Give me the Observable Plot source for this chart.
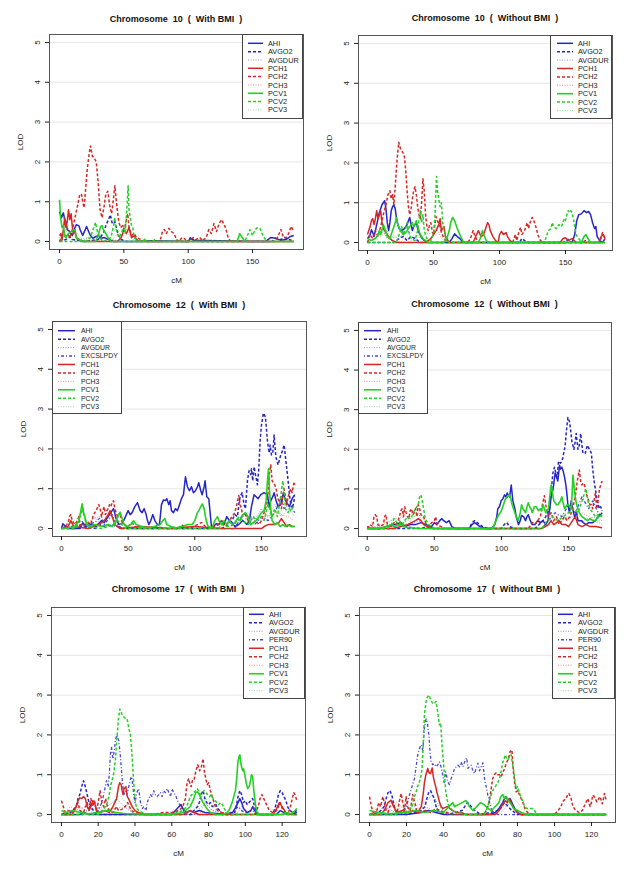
<!DOCTYPE html>
<html><head><meta charset="utf-8">
<script src="https://cdn.jsdelivr.net/npm/d3@7"></script>
<script src="https://cdn.jsdelivr.net/npm/@observablehq/plot@0.6"></script>
<style>
html,body{margin:0;padding:0;background:#fff;}
#root{position:relative;width:629px;height:870px;overflow:hidden;font-family:"Liberation Sans",Arial,Helvetica,sans-serif;}
.panel{position:absolute;}
.title{position:absolute;font-weight:bold;font-size:9px;line-height:9px;white-space:pre;transform:translateX(-50%);color:#111;}
.legend{position:absolute;}
</style></head><body><div id="root"></div>
<script>
// ---------------- Chromosome 10 (With BMI) ----------------
const c10w_AHI = [[0,0.75],[1.5,0.6],[3,0.72],[4,0.55],[5,0.5],[6,0.3],[8,0.25],[10,0.15],[12,0.35],[13,0.42],[15,0.4],[16,0.3],[18,0.15],[20,0.3],[21,0.38],[22,0.3],[24,0.15],[26,0.08],[28,0.12],[30,0.15],[32,0.08],[35,0.1],[38,0.05],[42,0],[60,0],[70,0.02],[100,0],[102,0.08],[104,0.03],[160,0],[164,0.1],[168,0.08],[172,0.03],[176,0.05],[179,0.12],[182,0.15]];
const c10w_AVGO2 = [[0,0],[5,0.05],[8,0.12],[10,0.05],[20,0],[30,0.05],[34,0.2],[36,0.4],[38,0.55],[39.5,0.67],[41,0.45],[43,0.5],[44.5,0.3],[46,0.15],[48,0.05],[52,0],[100,0],[102,0.12],[104,0.05],[110,0],[165,0],[168,0.08],[172,0.05],[175,0.1],[178,0.05],[182,0.02]];
const c10w_AVGDUR = [[0,0.1],[3,0.3],[5,0.1],[10,0.05],[25,0.1],[30,0.25],[33,0.1],[40,0.05],[50,0],[182,0]];
const c10w_PCH1 = [[0,0.15],[1,0.2],[2,0.05],[3,0.3],[4,0.6],[5,0.35],[6,0.5],[7,0.8],[8,0.55],[9,0.7],[10,0.35],[11,0.2],[12,0.3],[13,0.1],[15,0.05],[18,0],[45,0],[48,0.1],[50,0.3],[52,0.2],[54,0.35],[56,0.1],[58,0.15],[60,0.05],[62,0],[182,0]];
const c10w_PCH2 = [[0,0],[2,0.15],[4,0.1],[6,0.2],[8,0.1],[10,0.3],[12,0.6],[14,0.9],[15.5,1.15],[17,1.2],[18,1.0],[19,0.85],[20,1.2],[21.5,1.8],[23,2.2],[24,2.4],[25.5,2.15],[27,2.1],[28.5,2.0],[30,1.5],[31.5,0.8],[33,0.6],[34.5,0.85],[36,1.2],[37.5,1.26],[39,0.9],[40.5,0.7],[42,1.1],[43,1.4],[44.5,0.9],[46,0.5],[47.5,0.35],[49,0.4],[50.5,0.3],[52,0.55],[53,0.7],[54,0.35],[56,0.15],[58,0.2],[60,0.1],[63,0.05],[66,0],[78,0],[80,0.25],[81.5,0.3],[83,0.2],[85,0.33],[87,0.25],[89,0.2],[91,0.05],[93,0],[95,0.1],[97,0.08],[99,0],[104,0.1],[106,0.05],[109,0.1],[111,0.02],[114,0.1],[116,0.3],[118,0.2],[120,0.45],[122,0.25],[124,0.45],[126,0.55],[127.5,0.45],[129,0.35],[131,0.1],[133,0],[168,0],[170,0.15],[172,0.3],[174,0.1],[176,0.1],[178,0.2],[180,0.38],[182,0.25]];
const c10w_PCH3 = [[0,0],[3,0.2],[6,0.4],[8,0.15],[12,0.2],[16,0.05],[40,0],[45,0.2],[47,0.1],[52,0.3],[55,0.1],[60,0],[182,0]];
const c10w_PCV1 = [[0,1.05],[0.8,0.6],[2,0.35],[3,0.4],[4,0.15],[5,0.1],[7,0.2],[9,0.25],[11,0.3],[12,0.28],[13,0.1],[15,0.05],[18,0],[28,0],[30,0.15],[32,0.38],[33,0.4],[34,0.3],[36,0.2],[38,0.08],[40,0],[64,0],[66,0.05],[68,0],[138,0],[140,0.2],[142,0.1],[144,0],[182,0]];
const c10w_PCV2 = [[0,0],[20,0],[24,0.1],[26,0.3],[28,0.48],[29,0.3],[31,0.1],[34,0],[40,0.1],[42,0.4],[43,0.6],[44,0.3],[46,0.1],[48,0.2],[50,0.4],[51,0.2],[52.5,0.9],[53.3,1.4],[54,0.8],[55,0.6],[56,0.4],[57,0.35],[58,0.1],[60,0.05],[62,0],[72,0],[74,0.05],[76,0],[144,0],[146,0.15],[148,0.3],[150,0.15],[152,0.3],[154,0.35],[156,0.32],[158,0.15],[160,0.05],[162,0],[182,0]];
const c10w_PCV3 = [[0,0],[5,0.3],[8,0.1],[14,0.2],[18,0],[25,0.2],[28,0.1],[45,0.3],[48,0.1],[52,0.2],[55,0],[65,0.1],[70,0],[182,0]];

// ---------------- Chromosome 10 (Without BMI) ----------------
const c10o_AHI = [[0,0.1],[2,0.2],[3,0.32],[4,0.25],[5,0.15],[6,0.3],[7,0.45],[8,0.6],[9,0.75],[10,0.85],[11,0.95],[12,1.0],[13,1.05],[14,0.85],[15,0.5],[16,0.3],[17,0.5],[18,0.8],[19,0.9],[20,0.95],[21,0.85],[22,0.6],[23,0.45],[24,0.35],[26,0.3],[28,0.35],[30,0.45],[31,0.55],[32,0.63],[33,0.45],[34,0.3],[35,0.4],[36,0.45],[37,0.5],[38,0.35],[39,0.25],[41,0.12],[43,0.05],[46,0],[62,0],[64,0.1],[66,0.22],[68,0.15],[70,0.1],[72,0.02],[74,0],[155,0],[157,0.2],[158.5,0.55],[160,0.7],[162,0.72],[164,0.8],[166,0.75],[167.5,0.78],[169,0.7],[170.5,0.5],[172,0.35],[173,0.4],[174,0.15],[176,0.05],[178,0],[180,0.1]];
const c10o_AVGO2 = [[0,0],[20,0],[24,0.1],[27,0.15],[30,0.05],[33,0.15],[36,0.1],[40,0],[115,0],[117,0.1],[119,0.05],[122,0],[150,0],[152,0.08],[154,0],[180,0]];
const c10o_AVGDUR = [[0,0],[8,0.15],[12,0.3],[15,0.1],[25,0.15],[30,0.3],[33,0.1],[40,0],[180,0]];
const c10o_PCH1 = [[0,0.2],[2,0.4],[3,0.55],[4,0.6],[5,0.45],[6,0.6],[7,0.8],[8,0.6],[9,0.7],[10,0.8],[11,0.5],[12,0.35],[13,0.3],[15,0.2],[17,0.1],[19,0.05],[22,0],[44,0],[48,0.1],[50,0.2],[52,0.3],[54,0.45],[55,0.6],[56,0.3],[57,0.35],[58,0.4],[59,0.15],[61,0.05],[63,0],[80,0],[82,0.15],[84,0.3],[86,0.15],[88,0.2],[90,0.4],[91,0.5],[92,0.45],[93,0.3],[95,0.15],[97,0.05],[99,0],[100,0.2],[101.5,0.28],[103,0.2],[105,0.25],[106,0.15],[108,0.05],[110,0],[146,0],[148,0.1],[150,0.12],[152,0.05],[155,0.1],[158,0],[175,0],[177,0.15],[178.5,0.2],[180,0.1]];
const c10o_PCH2 = [[0,0],[2,0.2],[4,0.1],[6,0.3],[8,0.15],[10,0.4],[12,0.7],[14,0.95],[15.5,1.2],[17,1.3],[18,1.1],[19,1.2],[20,0.95],[21,1.4],[22,1.9],[23,2.3],[23.7,2.52],[25,2.35],[26,2.3],[27,2.25],[28,2.15],[29,1.8],[30,1.3],[31,0.9],[32,0.7],[33,0.85],[34,1.1],[35,1.3],[36,1.4],[37,1.2],[38,0.9],[39,0.7],[40,0.6],[41,1.0],[42,1.6],[43,1.3],[44,0.7],[45,0.4],[46,0.3],[47,0.45],[48,0.5],[49,0.3],[50,0.2],[51,0.45],[52,0.65],[53,0.55],[55,0.4],[56,0.25],[58,0.1],[60,0.05],[62,0],[76,0],[78,0.1],[80,0.3],[81,0.2],[83,0.05],[85,0],[110,0],[112,0.2],[113,0.05],[115,0.3],[116,0.38],[117,0.2],[119,0.3],[121,0.5],[122,0.35],[124,0.6],[125,0.63],[126,0.55],[128,0.35],[129,0.2],[131,0.05],[133,0],[162,0],[165,0.05],[168,0],[176,0],[178,0.25],[180,0.1]];
const c10o_PCH3 = [[0,0],[4,0.2],[7,0.35],[10,0.15],[15,0.3],[18,0.05],[30,0],[48,0.25],[52,0.35],[56,0.1],[60,0],[180,0]];
const c10o_PCV1 = [[0,0.1],[3,0.05],[6,0.1],[8,0.2],[9,0.3],[10,0.2],[12,0.45],[13,0.35],[15,0.15],[17,0.1],[19,0.3],[21,0.5],[22,0.63],[23,0.45],[25,0.3],[27,0.2],[29,0.25],[31,0.35],[33,0.45],[34,0.5],[35,0.4],[36,0.45],[37,0.55],[38,0.4],[40,0.2],[42,0.1],[44,0.05],[46,0],[58,0],[60,0.1],[62,0.3],[63,0.5],[64.5,0.63],[66,0.55],[67,0.45],[68,0.35],[70,0.2],[72,0.05],[74,0],[84,0],[86,0.15],[87,0.3],[88,0.2],[90,0.05],[92,0],[162,0],[164,0.15],[165.5,0.2],[167,0.1],[169,0],[180,0]];
const c10o_PCV2 = [[0,0],[22,0],[24,0.2],[26,0.4],[27,0.2],[29,0.35],[30,0.5],[31,0.3],[33,0.1],[36,0.05],[38,0.3],[40,0.8],[41,0.5],[42,0.7],[43,0.3],[45,0.1],[48,0.05],[50,0.2],[51,0.6],[52.3,1.66],[53,1.3],[54,1.1],[55,0.9],[56,1.0],[57,0.5],[58,0.3],[60,0.1],[62,0],[134,0],[136,0.2],[137,0.3],[139,0.35],[140,0.5],[141,0.4],[143,0.35],[145,0.45],[147,0.4],[149,0.6],[150,0.55],[151,0.7],[152,0.8],[153,0.75],[154,0.8],[155,0.75],[156,0.6],[157,0.4],[158,0.2],[160,0.1],[162,0.02],[164,0],[180,0]];
const c10o_PCV3 = [[0,0],[10,0.2],[14,0.35],[16,0.1],[24,0.2],[28,0.1],[35,0.3],[40,0.1],[56,0.6],[58,0.3],[60,0.05],[65,0.2],[70,0],[180,0]];

// ---------------- Chromosome 12 (With BMI) ----------------
const c12w_AHI = [[0,0],[1,0.12],[3,0.05],[6,0],[14,0],[16,0.15],[18,0.05],[22,0.1],[26,0.05],[30,0.2],[32,0.15],[35,0.3],[37,0.4],[39,0.5],[41,0.25],[43,0.1],[46,0.15],[48,0.3],[50,0.45],[51.5,0.35],[53,0.4],[55,0.55],[57,0.65],[59,0.45],[60.5,0.4],[62,0.5],[63.5,0.35],[64.5,0.2],[65.5,0.1],[67,0.2],[68.5,0.35],[70,0.2],[72,0.1],[73.5,0.1],[75,0.6],[76.5,0.72],[78,0.7],[79,0.75],[80.5,0.6],[81.5,0.7],[82.5,0.45],[84,0.4],[85.5,0.5],[87,0.45],[88.5,0.6],[90,0.75],[91.5,0.85],[93,1.3],[94.5,1.05],[96,0.95],[97.5,1.05],[99,0.9],[100.5,0.95],[102,1.05],[103,1.15],[104.5,0.95],[105.5,0.85],[107,1.05],[107.7,1.2],[109,0.8],[110.5,0.75],[111.5,0.4],[112.5,0.05],[114,0.05],[116,0.12],[118,0.1],[120,0.2],[122,0.1],[124,0.3],[126,0.2],[128,0.15],[130,0.05],[133,0.1],[136,0.2],[139,0.1],[141,0.2],[142.5,0.55],[144.5,0.85],[146,0.8],[147.5,0.75],[149.5,0.85],[152,0.9],[154.5,0.85],[155.8,0.55],[157,0.7],[158.5,0.8],[159.5,0.9],[161,0.7],[162.5,0.55],[164.5,0.6],[166.5,0.9],[168,0.7],[170,0.6],[171,0.55],[173,0.75],[175,0.85]];
const c12w_AVGO2 = [[0,0],[10,0],[12,0.1],[14,0.05],[26,0],[28,0.15],[30,0.05],[40,0.1],[45,0],[120,0],[125,0.1],[128,0.2],[130,0.35],[132,0.3],[133,0.6],[134,0.8],[135.5,0.9],[137,0.6],[138,0.5],[139.5,1.2],[140.7,1.45],[142,1.35],[142.5,1.5],[143.5,1.2],[144.5,1.55],[145.8,1.3],[147,1.1],[148,1.5],[149,2.2],[150,2.6],[151.5,2.9],[153,2.8],[154.5,2.2],[155.8,1.9],[156.5,2.1],[157.5,1.85],[158.5,1.9],[159.5,2.35],[160.8,1.8],[162.5,1.6],[164.5,1.85],[165.8,1.95],[167,2.1],[168,1.8],[169,1.5],[170,1.2],[171.5,0.7],[173.3,0.5],[175,0.8]];
const c12w_AVGDUR = [[0,0],[20,0.1],[25,0.3],[28,0.15],[40,0.05],[50,0],[130,0],[135,0.3],[140,0.4],[145,0.2],[150,0.5],[155,0.3],[160,0.6],[165,0.3],[170,0.5],[175,0.3]];
const c12w_EXCSLPDY = [[0,0],[5,0.1],[8,0.05],[15,0.2],[17,0.1],[25,0.15],[30,0.3],[32,0.1],[38,0.35],[40,0.2],[45,0],[130,0],[135,0.3],[138,0.4],[140,0.2],[145,0.1],[150,0.3],[155,0.2],[160,0.4],[165,0.8],[167,0.5],[170,0.6],[175,0.4]];
const c12w_PCH1 = [[0,0],[5,0.05],[7,0.2],[9,0.05],[20,0],[28,0.1],[32,0.2],[35,0.35],[36.5,0.45],[38,0.3],[40,0.1],[44,0],[60,0.05],[80,0],[100,0.05],[120,0],[150,0],[152,0.05],[155,0.1],[158,0.1],[160,0.1],[163,0.15],[165,0.25],[167,0.15],[169,0.05],[171,0.1],[173,0.05],[175,0.05]];
const c12w_PCH2 = [[0,0],[3,0.05],[5,0.15],[6,0.3],[7,0.35],[8,0.2],[10,0.1],[12,0.2],[13,0.3],[14,0.1],[16,0.05],[20,0.15],[22,0.1],[24,0.35],[26,0.45],[28,0.6],[29,0.5],[30,0.3],[31,0.45],[32,0.55],[33,0.35],[34,0.45],[35,0.5],[36,0.6],[37,0.55],[38,0.65],[39,0.7],[40,0.5],[41,0.4],[42,0.3],[44,0.4],[45,0.2],[47,0.1],[50,0.05],[53,0.15],[55,0.05],[60,0],[70,0.05],[80,0],[88,0],[90,0.1],[92,0.05],[96,0],[105,0.15],[108,0.05],[112,0],[118,0.1],[120,0.2],[122,0.1],[125,0.15],[128,0.3],[130,0.4],[131.5,0.6],[133,0.83],[134,0.6],[135,0.5],[136,0.3],[138,0.35],[140,0.2],[142,0.1],[144,0.15],[146,0.2],[148,0.1],[150,0.2],[152,0.4],[154,0.6],[155,0.9],[156,1.4],[157,1.6],[158,1.2],[159,1.15],[160,1.1],[161,1.0],[162,0.8],[163,0.7],[164,0.6],[165,0.5],[166,0.8],[167,1.0],[168,0.8],[169,0.6],[170,0.8],[171,0.9],[172,1.0],[173,0.9],[174.5,1.17],[175,1.1]];
const c12w_PCH3 = [[0,0],[15,0.1],[28,0.3],[35,0.4],[40,0.2],[45,0],[130,0],[140,0.3],[150,0.2],[160,0.4],[170,0.3],[175,0.2]];
const c12w_PCV1 = [[0,0],[5,0.02],[10,0.05],[13,0.2],[14.5,0.45],[15.5,0.62],[16.5,0.4],[17.5,0.3],[19,0.1],[21,0.05],[25,0.1],[30,0.05],[35,0.1],[38,0.05],[41,0.2],[43,0.35],[44,0.41],[45,0.3],[47,0.1],[49,0.05],[52,0.1],[54,0.2],[56,0.1],[60,0.05],[65,0.02],[70,0.05],[74,0.1],[76,0.2],[77.5,0.25],[79,0.1],[82,0.05],[86,0.02],[90,0.05],[95,0.1],[98,0.1],[100,0.2],[102,0.4],[103,0.45],[104.5,0.55],[105.7,0.62],[107,0.5],[108,0.3],[109,0.15],[110,0.05],[113,0.02],[115,0.2],[117,0.3],[118,0.2],[120,0.1],[122,0.2],[124,0.1],[126,0.2],[128,0.1],[130,0.15],[132,0.25],[134,0.2],[136,0.35],[138,0.4],[140,0.3],[142,0.1],[144,0.15],[146,0.2],[148,0.3],[150,0.4],[152,0.45],[153.5,0.7],[154.5,1.2],[155.3,1.5],[156,1.0],[157,0.5],[158,0.2],[160,0.1],[162,0.15],[164,0.05],[166,0.1],[168,0.05],[170,0.1],[172,0.05],[175,0.05]];
const c12w_PCV2 = [[0,0],[10,0],[12,0.1],[14,0.3],[16,0.5],[18,0.2],[20,0.05],[30,0],[40,0.1],[42,0.2],[44,0.15],[48,0],[118,0],[120,0.1],[125,0.05],[130,0.1],[133,0.3],[136,0.2],[140,0.1],[144,0.3],[146,0.2],[150,0.3],[152,0.2],[155,0.6],[158,0.3],[160,0.5],[162,0.3],[164,0.7],[166,1.2],[167,0.9],[168,0.5],[170,0.4],[171,0.5],[172,0.45],[173,0.5],[174,0.55],[175,0.6]];
const c12w_PCV3 = [[0,0],[14,0.3],[16,0.5],[18,0.1],[25,0.05],[40,0.3],[44,0.1],[48,0],[130,0],[140,0.3],[150,0.2],[160,0.4],[170,0.5],[175,0.4]];

// ---------------- Chromosome 12 (Without BMI) ----------------
const c12o_AHI = [[0,0.05],[2,0],[10,0],[14,0.05],[20,0.1],[25,0.15],[28,0.05],[32,0.1],[36,0.1],[40,0.15],[44,0.1],[48,0.05],[50,0.15],[52,0.1],[54,0.2],[55.6,0.25],[57,0.2],[59,0.15],[61,0.2],[63,0.05],[66,0],[76,0],[78,0.1],[80,0.15],[82,0.1],[84,0.05],[88,0],[92,0],[94,0.05],[95,0.1],[96.5,0.3],[97.3,0.5],[98.5,0.55],[99.8,0.7],[101,0.75],[102.3,0.85],[103.3,0.8],[104.3,0.9],[105,0.85],[106,0.8],[106.7,0.95],[107.3,1.1],[108.5,0.7],[110,0.5],[111,0.3],[112.7,0.1],[114,0.2],[115,0.33],[116.5,0.3],[118,0.2],[119,0.3],[120,0.35],[121.5,0.2],[123,0.1],[125,0.1],[127,0.2],[129,0.15],[131,0.2],[133,0.1],[134.6,0.2],[136,0.5],[137,0.8],[138.5,1.0],[140,1.4],[141,1.3],[142,1.2],[143.3,1.6],[144,1.5],[145,1.55],[146,1.45],[147,1.3],[148,1.1],[148.7,0.9],[149.5,0.6],[150.7,0.4],[152,0.7],[153,0.5],[154.5,0.3],[156,0.4],[157,0.2],[159.4,0.2],[161,0.15],[163,0.1],[165,0.15],[168,0.15],[170,0.2],[172,0.3],[174,0.35],[175,0.4]];
const c12o_AVGO2 = [[0,0],[40,0],[44,0.05],[48,0],[76,0],[78,0.15],[80,0.2],[82,0.15],[84,0.1],[86,0.05],[90,0],[100,0],[102,0.1],[104,0.15],[106,0.05],[110,0],[125,0],[128,0.1],[131,0.2],[133,0.3],[134.5,0.4],[135.8,0.5],[137,0.9],[138.3,1.4],[139.5,1.55],[140.5,1.4],[141.5,1.3],[142.5,1.7],[144,1.65],[145,1.7],[145.8,1.8],[146.7,1.95],[147.5,2.1],[148.5,2.5],[149.5,2.8],[150.7,2.7],[151.5,2.5],[152.5,2.2],[154,2.0],[155,2.2],[155.7,2.4],[157,2.0],[158,2.1],[159,2.4],[160,2.1],[160.7,1.9],[162.4,1.9],[163.2,2.0],[164,2.1],[165.6,2.0],[167,1.9],[168,1.5],[169,1.2],[170,1.0],[171.3,0.7],[173,0.5],[174,0.55],[175,0.45]];
const c12o_AVGDUR = [[0,0],[30,0.1],[40,0.2],[45,0],[130,0],[140,0.2],[150,0.3],[160,0.2],[170,0.3],[175,0.2]];
const c12o_EXCSLPDY = [[0,0],[20,0],[25,0.1],[28,0.05],[40,0],[130,0],[135,0.2],[140,0.4],[145,0.3],[150,0.6],[155,0.4],[160,0.8],[165,0.5],[168,0.7],[172,0.4],[175,0.3]];
const c12o_PCH1 = [[0,0],[20,0],[25,0.05],[30,0.1],[33,0.15],[36,0.2],[38,0.25],[40,0.2],[42,0.1],[45,0.05],[50,0],[130,0],[135,0.1],[137,0.2],[139,0.1],[141,0.15],[143,0.2],[145,0.1],[148,0.1],[150,0.05],[153,0.2],[155,0.3],[157,0.1],[160,0.05],[163,0.1],[166,0.05],[170,0.05],[175,0.02]];
const c12o_PCH2 = [[0,0],[2,0.1],[4,0.05],[5,0.3],[6,0.35],[7,0.3],[8,0.1],[10,0.05],[12,0.1],[13,0.3],[14,0.35],[15,0.1],[18,0.05],[20,0.15],[22,0.1],[24,0.3],[25,0.45],[26,0.5],[27,0.3],[28,0.55],[29,0.4],[30,0.3],[31,0.25],[32,0.45],[33,0.5],[34,0.35],[35,0.4],[36,0.5],[37,0.3],[38,0.6],[39,0.5],[40,0.35],[41,0.3],[42,0.3],[44,0.1],[46,0.05],[48,0.15],[50,0.2],[51,0.3],[52,0.1],[55,0.05],[58,0],[120,0],[123,0.15],[125,0.1],[127,0.2],[129,0.3],[130.5,0.6],[132,0.83],[133,0.6],[134,0.4],[135,0.3],[137,0.4],[139,0.2],[141,0.3],[143,0.1],[145,0.2],[147,0.3],[149,0.2],[151,0.3],[153,0.5],[155,0.8],[156.5,1.2],[158,1.48],[159,1.2],[160,1.1],[161,1.15],[162,1.1],[163,0.9],[164,0.8],[165,0.7],[166,0.6],[167,0.6],[168,0.5],[169,0.7],[170,0.9],[171,0.5],[172,0.7],[173,1.0],[174,1.1],[175,1.2]];
const c12o_PCH3 = [[0,0],[10,0.1],[26,0.3],[30,0.1],[38,0.4],[42,0.1],[50,0],[130,0],[145,0.2],[160,0.4],[170,0.2],[175,0.1]];
const c12o_PCV1 = [[0,0],[10,0],[14,0.05],[18,0.1],[20,0.05],[24,0.1],[30,0.02],[40,0],[92,0],[94,0.05],[96,0.2],[98,0.35],[100,0.45],[101.5,0.6],[103,0.75],[104.5,0.8],[106,0.85],[107,0.75],[108,0.6],[109.5,0.45],[111,0.3],[112.5,0.2],[114,0.4],[115,0.6],[116,0.5],[117,0.45],[118,0.4],[119,0.55],[120,0.65],[121,0.55],[122,0.5],[123,0.4],[124.5,0.55],[126,0.55],[127.5,0.45],[129,0.5],[130,0.45],[131,0.6],[132,0.5],[133,0.4],[134,0.45],[135,0.5],[136,0.8],[137,1.1],[138,0.9],[139,0.7],[140,0.65],[141,0.6],[142,0.6],[143,0.65],[144,0.7],[145,0.8],[146,0.65],[147,0.5],[148,0.55],[149,0.6],[150,0.6],[151,0.55],[152,0.5],[152.7,0.9],[153.3,1.35],[154,1.1],[155,0.8],[156,0.6],[157,0.5],[158,0.4],[159,0.35],[160,0.3],[162,0.25],[164,0.2],[166,0.25],[168,0.2],[170,0.2],[171,0.25],[172,0.3],[173,0.3],[174,0.33],[175,0.35]];
const c12o_PCV2 = [[0,0],[15,0],[18,0.1],[20,0.25],[22,0.15],[24,0.2],[26,0.1],[28,0.2],[30,0.3],[32,0.25],[33,0.3],[34,0.35],[35,0.45],[36,0.5],[37,0.55],[38,0.6],[39,0.8],[40,0.85],[41,0.7],[42,0.5],[43,0.3],[44,0.2],[46,0.1],[48,0.05],[50,0],[130,0],[134,0.2],[138,0.3],[142,0.2],[146,0.3],[150,0.4],[154,0.5],[157,0.4],[159,0.6],[161,0.8],[163,1.0],[164,0.8],[165,0.6],[166,0.5],[168,0.4],[170,0.3],[172,0.35],[175,0.3]];
const c12o_PCV3 = [[0,0],[15,0.1],[20,0.3],[24,0.1],[35,0.3],[40,0.4],[44,0.1],[50,0],[100,0],[105,0.2],[110,0],[130,0],[140,0.3],[150,0.4],[160,0.3],[170,0.2],[175,0.2]];

// ---------------- Chromosome 17 (With BMI) ----------------
const c17w_AHI = [[0,0],[10,0],[12,0.05],[15,0],[60,0],[62,0.1],[64,0.2],[65,0.25],[66,0.15],[68,0.05],[70,0.1],[72,0.05],[75,0.1],[78,0.05],[90,0],[93,0.05],[95,0.2],[96,0.3],[97,0.4],[98,0.3],[99,0.15],[101,0.05],[103,0.1],[104,0.2],[105,0.1],[107,0],[117,0],[119,0.1],[121,0.05],[124,0],[126,0.02],[128,0.05]];
const c17w_AVGO2 = [[0,0],[2,0.05],[4,0],[6,0.1],[8,0.2],[9,0.4],[10,0.5],[11,0.7],[12,0.85],[13,0.7],[14,0.5],[15,0.3],[16,0.2],[18,0.05],[20,0],[70,0],[72,0.1],[74,0.2],[75,0.3],[76,0.5],[77,0.6],[78,0.4],[79,0.3],[80,0.25],[81,0.3],[82,0.2],[84,0.25],[85,0.15],[87,0.05],[90,0],[94,0],[95,0.2],[96,0.45],[97,0.6],[98,0.5],[99,0.3],[100,0.35],[101,0.25],[102,0.3],[103,0.35],[104,0.4],[105,0.2],[106,0.05],[108,0],[115,0],[117,0.3],[118,0.5],[119,0.6],[120,0.55],[121,0.45],[122,0.35],[123,0.2],[124,0.1],[126,0.05],[128,0.1]];
const c17w_AVGDUR = [[0,0],[10,0.2],[13,0.1],[25,0.2],[30,0.4],[34,0.2],[40,0],[72,0],[78,0.3],[82,0.1],[95,0],[98,0.2],[102,0],[128,0]];
const c17w_PER90 = [[0,0],[15,0],[18,0.05],[20,0.1],[22,0.3],[23,0.5],[24.5,0.85],[25.4,0.7],[26,1.0],[26.6,1.5],[27.2,1.7],[28,1.4],[29,1.7],[29.4,1.9],[30.3,2.0],[31.2,1.85],[32,1.5],[33,0.9],[33.9,0.5],[34.8,0.6],[35.5,0.5],[36.6,0.7],[37.9,0.95],[38.4,0.9],[39.3,0.5],[40,0.3],[41,0.55],[42,0.65],[43,0.3],[44,0.15],[44.8,0.2],[46,0.1],[46.6,0.3],[47.5,0.4],[48.4,0.5],[49.3,0.45],[50.2,0.6],[51,0.5],[52,0.45],[53,0.5],[53.8,0.55],[54.7,0.45],[55.6,0.6],[56.5,0.55],[57.5,0.65],[58.4,0.55],[59.3,0.45],[60.2,0.65],[61,0.55],[62,0.5],[63,0.35],[63.8,0.3],[64.7,0.2],[65.6,0.15],[67,0.05],[69,0],[90,0],[92,0.05],[94,0.1],[96,0.2],[98,0.1],[100,0.05],[104,0.1],[106,0],[128,0]];
const c17w_PCH1 = [[0,0],[6,0],[8,0.2],[9,0.35],[10,0.42],[11,0.4],[12,0.45],[13,0.4],[14,0.2],[15,0.1],[16,0.2],[17,0.35],[18,0.3],[19,0.1],[21,0.05],[24,0.1],[26,0.05],[28,0.2],[30,0.4],[31,0.7],[31.7,0.8],[32.5,0.75],[33,0.6],[33.5,0.5],[34,0.65],[35,0.7],[35.8,0.45],[36.5,0.4],[37.5,0.3],[38.5,0.2],[40,0.1],[42,0.05],[45,0],[66,0],[68,0.05],[70,0.1],[72,0.05],[75,0],[115,0],[117,0.15],[118.5,0.3],[120,0.2],[122,0.05],[125,0],[128,0]];
const c17w_PCH2 = [[0,0.35],[1,0.2],[2,0.05],[4,0.1],[6,0.05],[8,0.2],[9,0.3],[10,0.1],[12,0.05],[14,0.3],[15,0.1],[16,0.4],[17,0.2],[18,0.35],[19,0.1],[20,0.3],[21,0.6],[22,0.3],[23,0.2],[24,0.4],[25,0.2],[26,0.1],[28,0.05],[30,0.2],[31,0.1],[34,0.15],[36,0.3],[38,0.1],[40,0.05],[44,0],[50,0],[55,0.05],[60,0.05],[64,0.1],[66,0.2],[67.4,0.4],[68.3,0.8],[69.2,0.9],[70,0.75],[70.5,0.7],[71.2,0.85],[72,0.85],[72.9,1.05],[74.1,1.25],[75.2,1.1],[76.1,1.2],[77,1.4],[77.8,1.05],[78.5,0.9],[79.2,0.75],[80.1,0.8],[81,0.6],[82.3,0.4],[83.7,0.2],[85,0.1],[87,0.05],[90,0],[105,0],[107,0.2],[108,0.4],[109,0.5],[110,0.4],[111,0.3],[112,0.2],[113,0.1],[115,0.05],[117,0.1],[118,0.2],[119,0.3],[120,0.15],[122,0.05],[124,0.1],[125,0.3],[126.3,0.55],[127,0.5],[128,0.35]];
const c17w_PCH3 = [[0,0],[5,0.2],[8,0.1],[18,0.3],[22,0.1],[35,0.2],[40,0],[75,0],[78,0.3],[82,0.1],[88,0],[128,0]];
const c17w_PCV1 = [[0,0.1],[3,0.05],[6,0.1],[10,0.05],[15,0.02],[20,0.05],[25,0.1],[30,0.05],[35,0.02],[60,0],[66,0.05],[70,0.2],[72,0.4],[73,0.55],[74,0.57],[75,0.5],[76,0.4],[77,0.3],[79,0.15],[81,0.05],[84,0],[88,0],[90,0.05],[91,0.1],[92,0.2],[92.8,0.3],[93.7,0.45],[94.6,0.6],[95.3,0.9],[95.9,1.3],[96.5,1.45],[97,1.5],[97.7,1.25],[98.2,1.15],[98.6,1.1],[99,1.15],[99.7,1.0],[100.4,0.8],[101.3,0.65],[102,0.7],[102.4,0.75],[103,0.9],[103.3,1.0],[104,0.95],[104.6,0.6],[105.5,0.25],[106.4,0.05],[108,0],[120,0],[122,0.05],[125,0.02],[127,0.1],[128,0.15]];
const c17w_PCV2 = [[0,0],[20,0],[22,0.1],[24,0.2],[25,0.3],[26,0.5],[26.6,0.7],[27.5,0.85],[28.5,1.05],[29.4,1.4],[30.3,2.0],[31,2.4],[31.7,2.65],[32.3,2.6],[33,2.5],[34,2.45],[35,2.4],[35.7,2.4],[36.5,2.2],[37.5,2.0],[38.2,1.6],[38.8,1.2],[39.3,0.8],[40.2,0.3],[41,0.15],[42,0.1],[44,0.05],[47,0],[60,0],[63,0.05],[66,0.1],[68,0.2],[69,0.3],[70,0.45],[71,0.5],[72,0.55],[73,0.6],[73.8,0.65],[74.5,0.6],[75.5,0.5],[76.5,0.55],[77.5,0.6],[78.5,0.55],[79.5,0.5],[80.5,0.45],[81.5,0.5],[82.5,0.4],[83.5,0.35],[84.5,0.3],[85.5,0.25],[86.5,0.3],[87.5,0.25],[88.5,0.15],[90,0.05],[92,0],[128,0]];
const c17w_PCV3 = [[0,0],[10,0.1],[20,0.05],[28,0.3],[32,0.5],[36,0.2],[42,0],[70,0],[75,0.3],[80,0.4],[84,0.1],[90,0],[128,0]];

// ---------------- Chromosome 17 (Without BMI) ----------------
const c17o_AHI = [[0,0],[20,0],[28,0.05],[32,0.1],[36,0.05],[40,0],[65,0],[68,0.05],[70,0.15],[72,0.3],[73.5,0.45],[75,0.35],[76,0.4],[77,0.3],[78.5,0.15],[80,0.05],[82,0],[128,0]];
const c17o_AVGO2 = [[0,0],[5,0.05],[8,0.2],[9,0.4],[10,0.55],[11,0.6],[12,0.5],[13,0.3],[14,0.1],[16,0.05],[20,0],[28,0.1],[30,0.2],[31,0.4],[32,0.55],[33,0.6],[34,0.5],[35,0.4],[36,0.2],[37,0.1],[39,0.05],[42,0],[50,0.1],[53,0.3],[55,0.2],[57,0.1],[60,0],[70,0.1],[73,0.3],[75,0.2],[77,0.1],[80,0],[128,0]];
const c17o_AVGDUR = [[0,0],[10,0.15],[14,0.05],[30,0.3],[34,0.5],[38,0.2],[42,0],[70,0],[76,0.3],[80,0.1],[85,0],[128,0]];
const c17o_PER90 = [[0,0],[15,0],[18,0.1],[20,0.2],[21.6,0.49],[23,0.7],[24.3,0.9],[25.2,1.2],[26.1,1.5],[27,1.65],[27.9,1.75],[28.8,1.6],[29.7,2.2],[30.6,2.4],[31.3,2.3],[32.1,2.0],[32.7,1.6],[33.3,1.32],[34.2,1.25],[35.1,1.28],[36,1.2],[37,1.25],[37.8,1.32],[38.7,1.2],[39.6,1.0],[40.4,0.8],[41.1,1.07],[41.8,0.95],[42.3,0.82],[43.2,0.75],[44.1,0.9],[45,1.0],[46,1.16],[47,1.2],[47.8,1.24],[48.7,1.2],[49.6,1.32],[50.5,1.2],[51.3,1.3],[51.9,1.37],[52.6,1.42],[53.2,1.16],[54,1.2],[55,1.24],[55.9,1.1],[56.8,1.03],[57.7,1.15],[58.6,1.29],[59.5,1.1],[60.4,1.2],[61.3,1.3],[62.2,0.9],[63.1,0.7],[64,0.48],[65,0.3],[65.8,0.15],[67,0.05],[70,0],[128,0]];
const c17o_PCH1 = [[0,0],[6,0],[8,0.1],[10,0.3],[11.7,0.36],[13,0.2],[15,0.05],[18,0.1],[20,0.05],[24,0.1],[26,0.05],[28,0.2],[29,0.5],[29.7,0.8],[30.5,1.0],[31.5,1.16],[32.2,1.05],[33,1.03],[33.9,1.17],[34.5,0.95],[35.1,0.82],[35.8,0.7],[36.4,0.57],[37.1,0.45],[37.8,0.32],[38.7,0.2],[39.6,0.15],[41,0.18],[42.3,0.2],[43.5,0.15],[45,0.1],[47,0.05],[50,0.05],[52,0],[68,0],[70,0.1],[72,0.25],[73.5,0.35],[74.5,0.3],[75.5,0.4],[76.5,0.3],[78,0.15],[80,0.05],[82,0],[128,0]];
const c17o_PCH2 = [[0,0.45],[1,0.2],[2,0.05],[4,0.1],[5,0.3],[6,0.2],[7.2,0.45],[8,0.3],[9,0.1],[10,0.05],[11,0.2],[12.6,0.32],[13.5,0.15],[15,0.05],[16,0.3],[17.1,0.53],[18,0.3],[19,0.1],[19.8,0.45],[20.5,0.2],[22,0.1],[23.4,0.5],[24.5,0.3],[25.5,0.1],[27,0.05],[30,0.1],[33,0.05],[36,0.15],[38,0.1],[42,0.05],[45,0],[62,0],[64,0.2],[65,0.4],[66.6,0.9],[67.5,1.0],[68.5,1.05],[69.4,1.0],[70.3,1.0],[71.2,0.95],[72,1.05],[73,1.15],[74,1.3],[74.8,1.37],[75.4,1.45],[76,1.58],[77,1.62],[77.8,1.08],[78.5,0.8],[79.3,0.57],[80.2,0.6],[81.1,0.49],[82,0.4],[82.9,0.32],[84,0.15],[85.5,0.05],[88,0],[100,0],[102,0.1],[103.5,0.2],[104.5,0.32],[106,0.4],[107.8,0.53],[109,0.4],[110,0.2],[111.5,0.1],[113.5,0.05],[115,0.1],[116.5,0.25],[118,0.4],[119.3,0.2],[120,0.3],[120.7,0.49],[121.5,0.45],[122.9,0.32],[124,0.4],[124.7,0.45],[125.8,0.27],[126.5,0.4],[127,0.53],[128,0.35]];
const c17o_PCH3 = [[0,0],[5,0.2],[8,0.1],[15,0.3],[20,0.1],[30,0.2],[35,0.1],[45,0],[68,0],[75,0.3],[80,0.1],[85,0],[128,0]];
const c17o_PCV1 = [[0,0.1],[5,0.05],[10,0.02],[20,0.05],[25,0.1],[30,0.05],[35,0.1],[40,0.05],[43,0.2],[45,0.3],[46,0.2],[48,0.25],[50,0.3],[52,0.35],[53,0.3],[54,0.2],[56,0.1],[58,0.2],[60,0.3],[62,0.25],[64,0.15],[66,0.1],[68,0.2],[70,0.3],[71,0.45],[72,0.5],[73,0.4],[74,0.45],[75,0.35],[76,0.3],[78,0.15],[80,0.1],[82,0.05],[85,0],[128,0]];
const c17o_PCV2 = [[0,0],[15,0],[18,0.05],[21,0.1],[23,0.2],[24,0.4],[25.2,0.57],[26,0.7],[27,0.82],[28,1.0],[28.5,1.24],[29.2,1.9],[29.7,2.5],[30.6,2.84],[31.3,2.95],[32.1,3.0],[33,2.9],[34,2.8],[35,2.78],[36,2.84],[36.8,2.6],[37.8,2.25],[38.5,2.3],[39.3,1.66],[40,1.3],[40.5,1.0],[41.2,0.6],[41.8,0.4],[43,0.2],[45,0.1],[48,0.05],[52,0],[62,0],[64,0.2],[65,0.4],[66.6,0.6],[68,0.7],[69.3,0.8],[70.3,0.9],[71.2,1.1],[72,1.3],[73.5,1.5],[74.2,1.4],[74.8,1.37],[75.7,1.45],[76.6,1.5],[77.2,1.3],[77.8,1.16],[78.5,0.9],[79.3,0.65],[80,0.7],[80.7,0.6],[81.8,0.45],[82.9,0.32],[84,0.2],[85,0.15],[86.5,0.15],[88.3,0.15],[90,0.05],[92,0],[128,0]];
const c17o_PCV3 = [[0,0],[10,0.05],[25,0.3],[30,0.5],[35,0.3],[42,0],[60,0],[70,0.4],[75,0.6],[80,0.3],[86,0],[128,0]];

// ---------------- labels / ticks ----------------
const titles = ["Chromosome  10  (  With BMI  )","Chromosome  10  (  Without BMI  )","Chromosome  12  (  With BMI  )","Chromosome  12  (  Without BMI  )","Chromosome  17  (  With BMI  )","Chromosome  17  (  Without BMI  )"];
const lodTicks = [0,1,2,3,4,5];
const gridLevels = [1,2,3,4,5];
const xTicks10_12 = [0,50,100,150];
const xTicks17 = [0,20,40,60,80,100,120];
const legend10 = ["AHI","AVGO2","AVGDUR","PCH1","PCH2","PCH3","PCV1","PCV2","PCV3"];
const legend12 = ["AHI","AVGO2","AVGDUR","EXCSLPDY","PCH1","PCH2","PCH3","PCV1","PCV2","PCV3"];
const legend17 = ["AHI","AVGO2","AVGDUR","PER90","PCH1","PCH2","PCH3","PCV1","PCV2","PCV3"];

// ---------------- styles ----------------
const BLUE = "#2626c8", RED = "#d62626", GREEN = "#24d024";
const STYLE = {
  AHI:{color:BLUE,width:1.5},
  AVGO2:{color:BLUE,width:1.5,dash:"3,2"},
  AVGDUR:{color:BLUE,width:1,dash:"1,1.5",opacity:0.5},
  EXCSLPDY:{color:BLUE,width:1.3,dash:"1,2,3,2",opacity:0.85},
  PER90:{color:BLUE,width:1.3,dash:"1,2,3,2",opacity:0.85},
  PCH1:{color:RED,width:1.5},
  PCH2:{color:RED,width:1.5,dash:"3,2"},
  PCH3:{color:RED,width:1,dash:"1,1.5",opacity:0.5},
  PCV1:{color:GREEN,width:1.6},
  PCV2:{color:GREEN,width:1.5,dash:"3,2"},
  PCV3:{color:GREEN,width:1,dash:"1,1.5",opacity:0.5}
};

const panels = [
  {title:titles[0], cell:{x:0,y:0,w:314,h:287}, box:{l:49,r:303,t:34,b:249}, xdomain:[-7.8,189.6], xticks:xTicks10_12, titleY:20,
   series:{AHI:c10w_AHI,AVGO2:c10w_AVGO2,AVGDUR:c10w_AVGDUR,PCH1:c10w_PCH1,PCH2:c10w_PCH2,PCH3:c10w_PCH3,PCV1:c10w_PCV1,PCV2:c10w_PCV2,PCV3:c10w_PCV3},
   legend:{names:legend10,x:242,y:34,w:61,h:85,row0:43.3,gap:8.33,s0:6,s1:21,tx:26,fs:7.3}},
  {title:titles[1], cell:{x:314,y:0,w:315,h:287}, box:{l:358,r:612,t:35,b:250}, xdomain:[-6.8,185.6], xticks:xTicks10_12, titleY:19,
   series:{AHI:c10o_AHI,AVGO2:c10o_AVGO2,AVGDUR:c10o_AVGDUR,PCH1:c10o_PCH1,PCH2:c10o_PCH2,PCH3:c10o_PCH3,PCV1:c10o_PCV1,PCV2:c10o_PCV2,PCV3:c10o_PCV3},
   legend:{names:legend10,x:550,y:35,w:62,h:84,row0:43.3,gap:8.4,s0:7,s1:23,tx:28,fs:7.3}},
  {title:titles[2], cell:{x:0,y:287,w:314,h:286}, box:{l:52,r:306,t:321,b:536}, xdomain:[-6.75,183.8], xticks:xTicks10_12, titleY:305.5,
   series:{AHI:c12w_AHI,AVGO2:c12w_AVGO2,AVGDUR:c12w_AVGDUR,EXCSLPDY:c12w_EXCSLPDY,PCH1:c12w_PCH1,PCH2:c12w_PCH2,PCH3:c12w_PCH3,PCV1:c12w_PCV1,PCV2:c12w_PCV2,PCV3:c12w_PCV3},
   legend:{names:legend12,x:52,y:321,w:70,h:93,row0:330.7,gap:8.44,s0:6,s1:23,tx:29,fs:6.9}},
  {title:titles[3], cell:{x:314,y:287,w:315,h:286}, box:{l:358,r:611,t:322,b:536}, xdomain:[-6.5,182], xticks:xTicks10_12, titleY:305,
   series:{AHI:c12o_AHI,AVGO2:c12o_AVGO2,AVGDUR:c12o_AVGDUR,EXCSLPDY:c12o_EXCSLPDY,PCH1:c12o_PCH1,PCH2:c12o_PCH2,PCH3:c12o_PCH3,PCV1:c12o_PCV1,PCV2:c12o_PCV2,PCV3:c12o_PCV3},
   legend:{names:legend12,x:358,y:322,w:70,h:92,row0:330.7,gap:8.44,s0:6,s1:23,tx:29,fs:6.9}},
  {title:titles[4], cell:{x:0,y:573,w:314,h:297}, box:{l:51,r:305,t:607,b:822}, xdomain:[-5.4,132.7], xticks:xTicks17, titleY:590,
   series:{AHI:c17w_AHI,AVGO2:c17w_AVGO2,AVGDUR:c17w_AVGDUR,PER90:c17w_PER90,PCH1:c17w_PCH1,PCH2:c17w_PCH2,PCH3:c17w_PCH3,PCV1:c17w_PCV1,PCV2:c17w_PCV2,PCV3:c17w_PCV3},
   legend:{names:legend17,x:243,y:607,w:62,h:92,row0:614.3,gap:8.49,s0:6,s1:21,tx:26,fs:7.3}},
  {title:titles[5], cell:{x:314,y:573,w:315,h:297}, box:{l:359,r:615,t:607,b:822}, xdomain:[-5.4,133], xticks:xTicks17, titleY:590,
   series:{AHI:c17o_AHI,AVGO2:c17o_AVGO2,AVGDUR:c17o_AVGDUR,PER90:c17o_PER90,PCH1:c17o_PCH1,PCH2:c17o_PCH2,PCH3:c17o_PCH3,PCV1:c17o_PCV1,PCV2:c17o_PCV2,PCV3:c17o_PCV3},
   legend:{names:legend17,x:552,y:607,w:63,h:92,row0:614.3,gap:8.49,s0:6,s1:21,tx:26,fs:7.3}}
];

const root = document.getElementById("root");
const FONT = '"Liberation Sans", Arial, Helvetica, sans-serif';

function rows(arr){ return arr.map(([cM, lod]) => ({cM, lod})); }

for (const p of panels) {
  const {cell, box} = p;
  const lineMarks = Object.entries(p.series).map(([name, arr]) => {
    const st = STYLE[name];
    return Plot.line(rows(arr), {x:"cM", y:"lod", stroke:st.color, strokeWidth:st.width,
      strokeDasharray:st.dash, strokeOpacity:st.opacity ?? 1, strokeLinecap:"butt", strokeLinejoin:"round"});
  });
  const chart = Plot.plot({
    width: cell.w, height: cell.h,
    marginLeft: box.l - cell.x, marginRight: cell.x + cell.w - box.r,
    marginTop: box.t - cell.y, marginBottom: cell.y + cell.h - box.b,
    x: {domain: p.xdomain},
    y: {domain: [-0.2, 5.2]},
    style: {fontFamily: FONT, fontSize: "8px", color: "#222", background: "transparent", overflow: "visible"},
    marks: [
      Plot.ruleY(gridLevels, {stroke:"#e6e6e6", strokeWidth:1}),
      ...lineMarks,
      Plot.frame({stroke:"#555", strokeWidth:1}),
      Plot.axisX({ticks:p.xticks, tickFormat:d => String(d), tickSize:4, tickPadding:5, fontSize:8, label:"cM", labelAnchor:"center", labelArrow:"none", labelOffset:33}),
      Plot.axisY({ticks:lodTicks, tickFormat:d => String(d), tickSize:4, tickPadding:6, tickRotate:-90, fontSize:8, label:"LOD", labelAnchor:"center", labelArrow:"none", labelOffset:32})
    ]
  });
  const wrap = document.createElement("div");
  wrap.className = "panel";
  wrap.style.left = cell.x + "px"; wrap.style.top = cell.y + "px";
  wrap.appendChild(chart);
  root.appendChild(wrap);

  // title
  const t = document.createElement("div");
  t.className = "title";
  t.textContent = p.title;
  t.style.left = ((box.l + box.r) / 2) + "px";
  t.style.top = (p.titleY - 5) + "px";
  root.appendChild(t);

  // legend (inside plot box)
  const L = p.legend;
  const ns = "http://www.w3.org/2000/svg";
  const svg = document.createElementNS(ns, "svg");
  svg.setAttribute("class", "legend");
  svg.setAttribute("width", L.w); svg.setAttribute("height", L.h);
  svg.style.left = L.x + "px"; svg.style.top = L.y + "px";
  const rect = document.createElementNS(ns, "rect");
  rect.setAttribute("x", 0.5); rect.setAttribute("y", 0.5);
  rect.setAttribute("width", L.w - 1); rect.setAttribute("height", L.h - 1);
  rect.setAttribute("fill", "#fff"); rect.setAttribute("stroke", "#444"); rect.setAttribute("stroke-width", 1);
  svg.appendChild(rect);
  L.names.forEach((name, i) => {
    const st = STYLE[name];
    const yy = L.row0 - L.y + i * L.gap;
    const ln = document.createElementNS(ns, "line");
    ln.setAttribute("x1", L.s0); ln.setAttribute("x2", L.s1);
    ln.setAttribute("y1", yy); ln.setAttribute("y2", yy);
    ln.setAttribute("stroke", st.color); ln.setAttribute("stroke-width", st.width);
    if (st.dash) ln.setAttribute("stroke-dasharray", st.dash);
    if (st.opacity) ln.setAttribute("stroke-opacity", st.opacity);
    svg.appendChild(ln);
    const tx = document.createElementNS(ns, "text");
    tx.setAttribute("x", L.tx); tx.setAttribute("y", yy);
    tx.setAttribute("dy", "0.35em");
    tx.setAttribute("font-family", FONT);
    tx.setAttribute("font-size", L.fs + "px");
    tx.setAttribute("fill", "#222");
    tx.textContent = name;
    svg.appendChild(tx);
  });
  root.appendChild(svg);
}
</script></body></html>
